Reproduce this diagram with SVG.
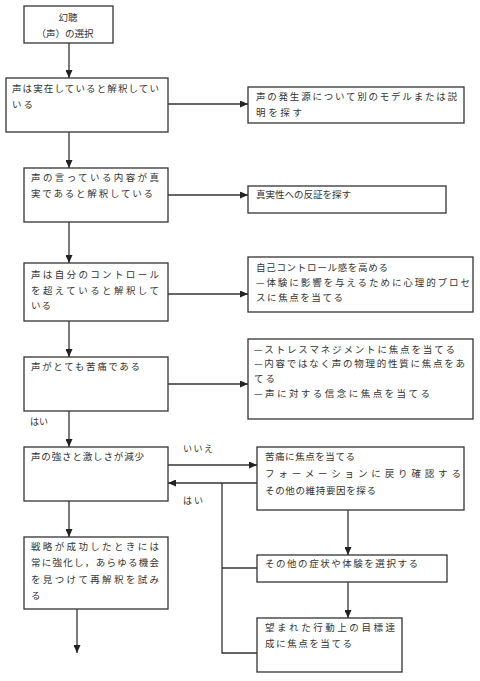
<svg xmlns="http://www.w3.org/2000/svg" width="480" height="681" viewBox="0 0 480 681">
<style>
.box{fill:#fff;stroke:#333;stroke-width:1.3}
.t{font-family:"Noto Sans CJK JP","Noto Sans",sans-serif;font-size:9.5px;fill:#333}
.l{font-family:"Noto Sans CJK JP","Noto Sans",sans-serif;font-size:9px;fill:#333}
.c{fill:none;stroke:#333;stroke-width:1.3}
</style>
<defs>
<marker id="ah" markerUnits="userSpaceOnUse" markerWidth="8" markerHeight="7" refX="8" refY="3.5" orient="auto">
<path d="M0,0 L8,3.5 L0,7 z" fill="#222"/>
</marker>
</defs>
<rect width="480" height="681" fill="#fff"/>
<g id="connectors">
<line class="c" x1="69" y1="43" x2="69" y2="78" marker-end="url(#ah)"/>
<line class="c" x1="168" y1="104" x2="248" y2="104" marker-end="url(#ah)"/>
<line class="c" x1="69" y1="132" x2="69" y2="168" marker-end="url(#ah)"/>
<line class="c" x1="168" y1="195" x2="248" y2="195" marker-end="url(#ah)"/>
<line class="c" x1="69" y1="222" x2="69" y2="263" marker-end="url(#ah)"/>
<line class="c" x1="168" y1="294" x2="248" y2="294" marker-end="url(#ah)"/>
<line class="c" x1="69" y1="321" x2="69" y2="357" marker-end="url(#ah)"/>
<line class="c" x1="168" y1="384" x2="248" y2="384" marker-end="url(#ah)"/>
<line class="c" x1="69" y1="411" x2="69" y2="447" marker-end="url(#ah)"/>
<line class="c" x1="168" y1="465" x2="257" y2="465" marker-end="url(#ah)"/>
<line class="c" x1="257" y1="483" x2="168" y2="483" marker-end="url(#ah)"/>
<polyline class="c" points="222,483 222,653 257,653"/>
<line class="c" x1="222" y1="568" x2="257" y2="568"/>
<line class="c" x1="348" y1="510" x2="348" y2="555" marker-end="url(#ah)"/>
<line class="c" x1="348" y1="582" x2="348" y2="618" marker-end="url(#ah)"/>
<line class="c" x1="69" y1="501" x2="69" y2="537" marker-end="url(#ah)"/>
<line class="c" x1="77" y1="609" x2="77" y2="653" marker-end="url(#ah)"/>
<text class="l" x="30" y="425">はい</text>
<text class="l" x="183" y="452" textLength="30" lengthAdjust="spacing">いいえ</text>
<text class="l" x="183" y="504" textLength="20" lengthAdjust="spacing">はい</text>
</g>
<g id="n1">
<rect class="box" x="24" y="6" width="89" height="37"/>
<text class="t" x="68" y="21" text-anchor="middle">幻聴</text>
<text class="t" x="65" y="37" text-anchor="middle">（声）の選択</text>
</g>
<g id="n2">
<rect class="box" x="6" y="78" width="162" height="54"/>
<text class="t" x="12" y="92" textLength="147" lengthAdjust="spacing">声は実在していると解釈してい</text>
<text class="t" x="12" y="108" textLength="21" lengthAdjust="spacing">いる</text>
</g>
<g id="n3">
<rect class="box" x="248" y="87" width="216" height="36"/>
<text class="t" x="256" y="100" textLength="201" lengthAdjust="spacing">声の発生源について別のモデルまたは説</text>
<text class="t" x="256" y="116" textLength="46" lengthAdjust="spacing">明を探す</text>
</g>
<g id="n4">
<rect class="box" x="24" y="168" width="144" height="54"/>
<text class="t" x="31" y="181" textLength="128" lengthAdjust="spacing">声の言っている内容が真</text>
<text class="t" x="31" y="197" textLength="122" lengthAdjust="spacing">実であると解釈している</text>
</g>
<g id="n5">
<rect class="box" x="248" y="186" width="198" height="27"/>
<text class="t" x="256" y="198">真実性への反証を探す</text>
</g>
<g id="n6">
<rect class="box" x="24" y="263" width="144" height="58"/>
<text class="t" x="31" y="278" textLength="128" lengthAdjust="spacing">声は自分のコントロール</text>
<text class="t" x="31" y="294" textLength="128" lengthAdjust="spacing">を超えていると解釈して</text>
<text class="t" x="31" y="309" textLength="20" lengthAdjust="spacing">いる</text>
</g>
<g id="n7">
<rect class="box" x="248" y="257" width="225" height="55"/>
<text class="t" x="256" y="271" textLength="132" lengthAdjust="spacing">自己コントロール感を高める</text>
<text class="t" x="256" y="286" textLength="214" lengthAdjust="spacing">—体験に影響を与えるために心理的プロセ</text>
<text class="t" x="256" y="301" textLength="87" lengthAdjust="spacing">スに焦点を当てる</text>
</g>
<g id="n8">
<rect class="box" x="24" y="357" width="144" height="54"/>
<text class="t" x="31" y="370" textLength="109" lengthAdjust="spacing">声がとても苦痛である</text>
</g>
<g id="n9">
<rect class="box" x="248" y="339" width="225" height="80"/>
<text class="t" x="254" y="353" textLength="201" lengthAdjust="spacing">—ストレスマネジメントに焦点を当てる</text>
<text class="t" x="254" y="367" textLength="211" lengthAdjust="spacing">—内容ではなく声の物理的性質に焦点をあ</text>
<text class="t" x="254" y="382" textLength="21" lengthAdjust="spacing">てる</text>
<text class="t" x="254" y="397" textLength="176" lengthAdjust="spacing">—声に対する信念に焦点を当てる</text>
</g>
<g id="n10">
<rect class="box" x="24" y="447" width="144" height="54"/>
<text class="t" x="31" y="460" textLength="113" lengthAdjust="spacing">声の強さと激しさが減少</text>
</g>
<g id="n11">
<rect class="box" x="257" y="447" width="207" height="63"/>
<text class="t" x="265" y="460" textLength="90" lengthAdjust="spacing">苦痛に焦点を当てる</text>
<text class="t" x="265" y="477" textLength="196" lengthAdjust="spacing">フォーメーションに戻り確認する</text>
<text class="t" x="265" y="494" textLength="111" lengthAdjust="spacing">その他の維持要因を探る</text>
</g>
<g id="n12">
<rect class="box" x="257" y="555" width="190" height="27"/>
<text class="t" x="265" y="567" textLength="153" lengthAdjust="spacing">その他の症状や体験を選択する</text>
</g>
<g id="n13">
<rect class="box" x="257" y="618" width="145" height="54"/>
<text class="t" x="265" y="631" textLength="130" lengthAdjust="spacing">望まれた行動上の目標達</text>
<text class="t" x="265" y="647" textLength="87" lengthAdjust="spacing">成に焦点を当てる</text>
</g>
<g id="n14">
<rect class="box" x="24" y="537" width="144" height="72"/>
<text class="t" x="31" y="550" textLength="128" lengthAdjust="spacing">戦略が成功したときには</text>
<text class="t" x="31" y="566" textLength="128" lengthAdjust="spacing">常に強化し，あらゆる機会</text>
<text class="t" x="31" y="583" textLength="128" lengthAdjust="spacing">を見つけて再解釈を試み</text>
<text class="t" x="31" y="599">る</text>
</g>
</svg>
